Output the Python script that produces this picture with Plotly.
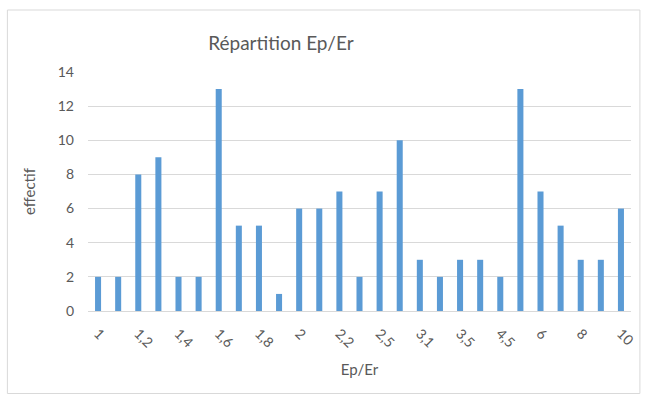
import plotly.graph_objects as go

# Ratio classes (Ep/Er) and their counts
categories = ["1", "1,1", "1,2", "1,3", "1,4", "1,5", "1,6", "1,7", "1,8", "1,9",
              "2", "2,1", "2,2", "2,3", "2,5", "2,8", "3,1", "3,3", "3,5", "4",
              "4,5", "5", "6", "7", "8", "9", "10"]
effectif = [2, 2, 8, 9, 2, 2, 13, 5, 5, 1, 6, 6, 7, 2, 7, 10, 3, 2, 3, 3,
            2, 13, 7, 5, 3, 3, 6]
shown_ticks = categories[::2]
y_ticks = [0, 2, 4, 6, 8, 10, 12, 14]

W, H = 647, 394
ML, MR, MT, MB = 88, 10, 72, 83
pw, ph = W - ML - MR, H - MT - MB

def px_x(p):
    return (p - ML) / pw

def px_y(p):
    return (H - MB - p) / ph

txt = "#595959"
font = "Lato, 'Open Sans', sans-serif"

fig = go.Figure(go.Bar(
    x=categories, y=effectif,
    marker=dict(color="#5B9BD5", line=dict(width=0)),
    width=0.3,
))

fig.update_layout(
    width=W, height=H,
    margin=dict(l=ML, r=MR, t=MT, b=MB),
    paper_bgcolor="white", plot_bgcolor="white",
    font=dict(family=font, color=txt, size=14),
    showlegend=False,
    title=dict(text="Répartition Ep/Er", x=px_x(283), xref="paper",
               xanchor="center", y=1 - 43 / H, yanchor="middle",
               font=dict(size=19, color=txt, family=font)),
    shapes=[dict(type="rect", xref="paper", yref="paper",
                 x0=px_x(6.5), x1=px_x(646), y0=px_y(393.5), y1=px_y(10),
                 line=dict(color="#D9D9D9", width=1), fillcolor="rgba(0,0,0,0)",
                 layer="below")],
)

fig.update_xaxes(
    type="category", range=[-0.5, len(categories) - 0.5],
    tickmode="array", tickvals=shown_ticks, ticktext=shown_ticks,
    tickangle=45, tickfont=dict(size=14, color=txt),
    showgrid=False, showline=True, linecolor="#D9D9D9", linewidth=1,
    ticks="", ticklabelstandoff=8,
    title=dict(text="Ep/Er", font=dict(size=15, color=txt), standoff=14),
)

fig.update_yaxes(
    range=[0, 14], tickmode="array", tickvals=y_ticks,
    tickfont=dict(size=14, color=txt),
    showgrid=True, gridcolor="#D9D9D9", gridwidth=1,
    zeroline=False, showline=False, ticks="", ticklabelstandoff=13,
    title=dict(text="effectif", font=dict(size=15, color=txt), standoff=18),
)

fig.write_html("out.html")
